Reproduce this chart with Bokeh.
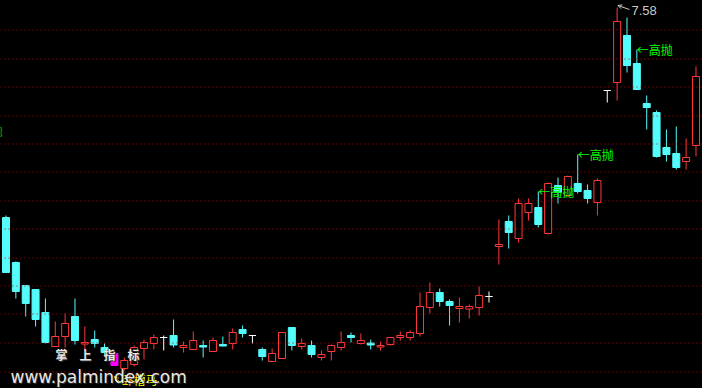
from bokeh.plotting import figure
from bokeh.models import Range1d, Span, Arrow, OpenHead, ColumnDataSource, Label
from bokeh.core.properties import value
from bokeh.embed import file_html
from bokeh.resources import INLINE

# ---- data (price per bar) ----
opens = [5.48, 5.03, 4.80, 4.76, 4.53, 4.19, 4.29, 4.49, 4.215, 4.26,
         4.18, 4.12, 3.97, 4.01, 4.17, 4.22, 4.28, 4.30, 4.18, 4.16,
         4.20, 4.14, 4.21, 4.22, 4.36, 4.30, 4.16, 4.04, 4.07, 4.38,
         4.19, 4.20, 4.08, 4.14, 4.18, 4.30, 4.22, 4.225, 4.185, 4.21,
         4.28, 4.28, 4.32, 4.58, 4.73, 4.64, 4.57, 4.565, 4.58, 4.69,
         5.19, 5.44, 5.27, 5.53, 5.58, 5.32, 5.80, 5.70, 5.82, 5.75,
         5.63, 6.75, 6.83, 7.30, 7.02, 6.62, 6.53, 6.18, 6.12, 6.04,
         6.20]
highs = [5.50, 5.04, 4.80, 4.76, 4.67, 4.44, 4.52, 4.67, 4.39, 4.35,
         4.22, 4.12, 4.08, 4.20, 4.26, 4.31, 4.30, 4.46, 4.24, 4.34,
         4.25, 4.28, 4.29, 4.37, 4.40, 4.30, 4.18, 4.17, 4.33, 4.38,
         4.27, 4.25, 4.15, 4.21, 4.34, 4.33, 4.32, 4.26, 4.24, 4.28,
         4.34, 4.35, 4.73, 4.83, 4.77, 4.66, 4.68, 4.61, 4.79, 4.74,
         5.46, 5.50, 5.67, 5.67, 5.74, 5.83, 5.88, 5.90, 6.11, 5.81,
         5.87, 6.75, 7.58, 7.48, 7.16, 6.70, 6.55, 6.36, 6.39, 6.27,
         6.99]
lows = [4.93, 4.67, 4.49, 4.39, 4.22, 4.19, 4.18, 4.21, 4.15, 4.18,
        4.10, 4.00, 3.95, 3.99, 4.06, 4.16, 4.15, 4.18, 4.13, 4.16,
        4.08, 4.14, 4.19, 4.16, 4.28, 4.22, 4.05, 4.04, 4.07, 4.15,
        4.16, 4.08, 4.05, 4.05, 4.15, 4.23, 4.21, 4.16, 4.15, 4.20,
        4.25, 4.25, 4.29, 4.52, 4.59, 4.40, 4.43, 4.47, 4.50, 4.63,
        5.01, 5.17, 5.23, 5.45, 5.38, 5.31, 5.62, 5.68, 5.72, 5.62,
        5.50, 6.63, 6.65, 6.93, 6.76, 6.36, 6.08, 6.04, 5.96, 5.96,
        6.09]
closes = [4.93, 4.74, 4.62, 4.46, 4.23, 4.29, 4.42, 4.25, 4.23, 4.22,
          4.13, 4.00, 4.05, 4.18, 4.23, 4.28, 4.28, 4.205, 4.20, 4.25,
          4.185, 4.25, 4.195, 4.33, 4.32, 4.30, 4.09, 4.12, 4.33, 4.20,
          4.22, 4.11, 4.11, 4.20, 4.23, 4.28, 4.25, 4.205, 4.20, 4.28,
          4.30, 4.33, 4.59, 4.73, 4.64, 4.60, 4.59, 4.59, 4.70, 4.69,
          5.21, 5.33, 5.62, 5.62, 5.41, 5.82, 5.73, 5.89, 5.74, 5.67,
          5.85, 6.75, 7.44, 7.00, 6.76, 6.58, 6.09, 6.11, 5.98, 6.08,
          6.89]

signal_bar = 11                    # 卧槽马 bar (magenta)
sell_bars = [54, 58, 64]           # 高抛 marks at the bar high
sell_prev = (-4, 6.35)             # 高抛 mark of an earlier, off-screen bar
grid_levels = [7.355, 7.065, 6.785, 6.495, 6.215, 5.935, 5.645, 5.365,
               5.075, 4.795, 4.515, 4.225, 3.935]

UP, DOWN, FLAT, SIG = "#FF3838", "#54FCFC", "#FFFFFF", "#FF00FF"

n = len(opens)
xs = list(range(n))
line_c, fill_c, tops, bots = [], [], [], []
for i in range(n):
    o, c = opens[i], closes[i]
    if i == signal_bar:
        col, fill = SIG, SIG
    elif c > o:
        col, fill = UP, "#000000"
    elif c < o:
        col, fill = DOWN, DOWN
    else:
        col, fill = FLAT, FLAT
    line_c.append(col)
    fill_c.append(fill)
    tops.append(max(o, c))
    bots.append(min(o, c))

src = ColumnDataSource(dict(x=xs, o=opens, h=highs, l=lows, c=closes,
                            top=tops, bot=bots, lc=line_c, fc=fill_c))

p = figure(width=702, height=388, output_backend="svg", toolbar_location=None,
           x_range=Range1d(-0.558, 70.66), y_range=Range1d(3.77, 7.65),
           x_axis_type=None, y_axis_type=None, min_border=0,
           background_fill_color="#000000", border_fill_color="#000000",
           outline_line_color=None)

for lv in grid_levels:
    p.add_layout(Span(location=lv, dimension="width", line_color="#C80000",
                      line_width=1, line_dash="1 3"))

p.segment(x0="x", y0="l", x1="x", y1="h", line_color="lc", line_width=1, source=src)
p.vbar(x="x", width=0.71, top="top", bottom="bot", fill_color="fc",
       line_color="lc", line_width=1, source=src)

# 高抛 marks
sx = [b for b in sell_bars] + [sell_prev[0]]
sy = [highs[b] for b in sell_bars] + [sell_prev[1]]
p.text(x=sx, y=sy, text=["←高抛"] * len(sx), text_color="#00FF00",
       text_font=value("Noto Sans CJK SC"), text_font_size="12px",
       text_align="left", text_baseline="middle")

# highest price marker
imax = highs.index(max(highs))
p.add_layout(Arrow(end=OpenHead(size=4, line_color="#C8C8C8", line_width=1),
                   x_start=imax + 1.25, y_start=max(highs) - 0.02,
                   x_end=imax + 0.08, y_end=max(highs) + 0.02,
                   line_color="#C8C8C8", line_width=1))
p.text(x=[imax + 1.45], y=[max(highs) - 0.025], text=["%.2f" % max(highs)],
       text_color="#C8C8C8", text_font=value("Liberation Sans"),
       text_font_size="13px", text_align="left", text_baseline="middle")

# 卧槽马 signal label
sl = lows[signal_bar]
p.add_layout(Arrow(end=OpenHead(size=4, line_color="#FFFF00", line_width=1),
                   x_start=signal_bar + 0.62, y_start=sl - 0.175,
                   x_end=signal_bar + 0.02, y_end=sl - 0.11,
                   line_color="#FFFF00", line_width=1))
p.text(x=[signal_bar + 0.72], y=[sl - 0.135], text=["卧槽马"], text_color="#FFFF00",
       text_font=value("Noto Sans CJK SC"), text_font_size="12px",
       text_align="left", text_baseline="middle")

# watermark (with a dark shadow like the original)
for dx, dy, col in [(1, -1, "#303030"), (0, 0, "#E8E8E8")]:
    p.add_layout(Label(x=55 + dx, y=34 + dy, x_units="screen", y_units="screen",
                       text="掌　上　指　标", text_color=col,
                       text_font="Noto Sans CJK SC", text_font_size="12px",
                       text_font_style="bold", text_baseline="middle"))
    p.add_layout(Label(x=10 + dx, y=12 + dy, x_units="screen", y_units="screen",
                       text="www.palmindex.com", text_color=col,
                       text_font="DejaVu Sans", text_font_size="17px",
                       text_baseline="alphabetic"))

html = file_html(p, INLINE, title="chart")
html = html.replace("</head>", "<style>html,body{margin:0;padding:0;background:#000;overflow:hidden;}</style></head>")
open("out.html", "w").write(html)
